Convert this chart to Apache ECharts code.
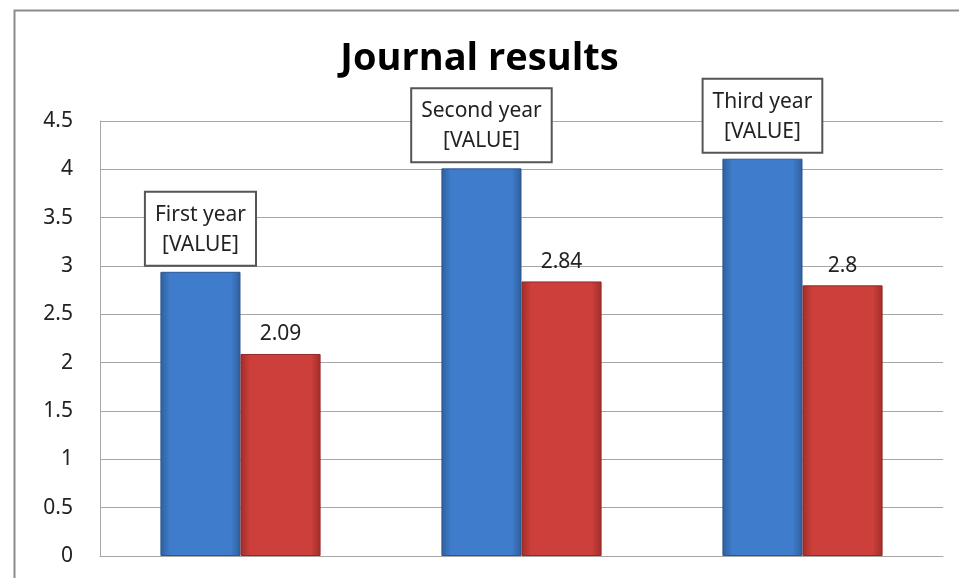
<!DOCTYPE html>
<html>
<head>
<meta charset="utf-8">
<script src="https://cdn.jsdelivr.net/npm/echarts@6/dist/echarts.min.js"></script>
<style>
  html, body { margin: 0; padding: 0; background: #fff; }
  #chart { width: 959px; height: 578px; }
</style>
</head>
<body>
<div id="chart"></div>
<script>
// data
const years = ["First year", "Second year", "Third year"];
const firstSeries = [2.94, 4.01, 4.11];
const secondSeries = [2.09, 2.84, 2.8];
const yTicks = [0, 0.5, 1, 1.5, 2, 2.5, 3, 3.5, 4, 4.5];

const font = "'Noto Sans', sans-serif";

function barGradient(edge, mid) {
  return new echarts.graphic.LinearGradient(0, 0, 1, 0, [
    { offset: 0, color: edge },
    { offset: 0.12, color: mid },
    { offset: 0.88, color: mid },
    { offset: 1, color: edge }
  ]);
}

const chart = echarts.init(document.getElementById("chart"));
chart.setOption({
  backgroundColor: "#fff",
  animation: false,
  title: {
    text: "Journal results",
    left: "center",
    top: 35,
    textStyle: {
      fontFamily: "'Open Sans', sans-serif",
      fontWeight: "bold",
      fontSize: 38,
      color: "#000"
    }
  },
  graphic: [
    {
      type: "rect",
      left: 12,
      top: 8,
      shape: { width: 960, height: 600 },
      style: { fill: "none", stroke: "#8c8c8c", lineWidth: 2 },
      silent: true
    }
  ],
  grid: {
    left: 100,
    right: 16,
    top: 121,
    bottom: 22
  },
  xAxis: {
    type: "category",
    data: years,
    axisLine: { show: true, lineStyle: { color: "#a6a6a6", width: 1 } },
    axisTick: { show: false },
    axisLabel: { show: false }
  },
  yAxis: {
    type: "value",
    min: yTicks[0],
    max: yTicks[yTicks.length - 1],
    interval: 0.5,
    axisLine: { show: true, lineStyle: { color: "#a6a6a6" } },
    axisTick: { show: false },
    splitLine: { show: true, lineStyle: { color: "#a6a6a6", width: 1 } },
    axisLabel: {
      margin: 27,
      fontFamily: font,
      fontSize: 21,
      color: "#222"
    }
  },
  series: [
    {
      type: "bar",
      data: firstSeries,
      barGap: "0%",
      barCategoryGap: "43%",
      itemStyle: {
        color: barGradient("#2f5f9c", "#3f7ccb"),
        borderColor: "#2b5791",
        borderWidth: 1
      },
      label: {
        show: true,
        position: "top",
        distance: 7,
        formatter: function (p) { return p.name + "\n[VALUE]"; },
        fontFamily: font,
        fontSize: 21,
        lineHeight: 30,
        color: "#222",
        backgroundColor: "#fff",
        borderColor: "#555",
        borderWidth: 2,
        padding: [7, 9, 5, 9]
      }
    },
    {
      type: "bar",
      data: secondSeries,
      itemStyle: {
        color: barGradient("#a02e2b", "#cc3f3a"),
        borderColor: "#912826",
        borderWidth: 1
      },
      label: {
        show: true,
        position: "top",
        distance: 9,
        fontFamily: font,
        fontSize: 21,
        color: "#222"
      }
    }
  ]
});
</script>
</body>
</html>
